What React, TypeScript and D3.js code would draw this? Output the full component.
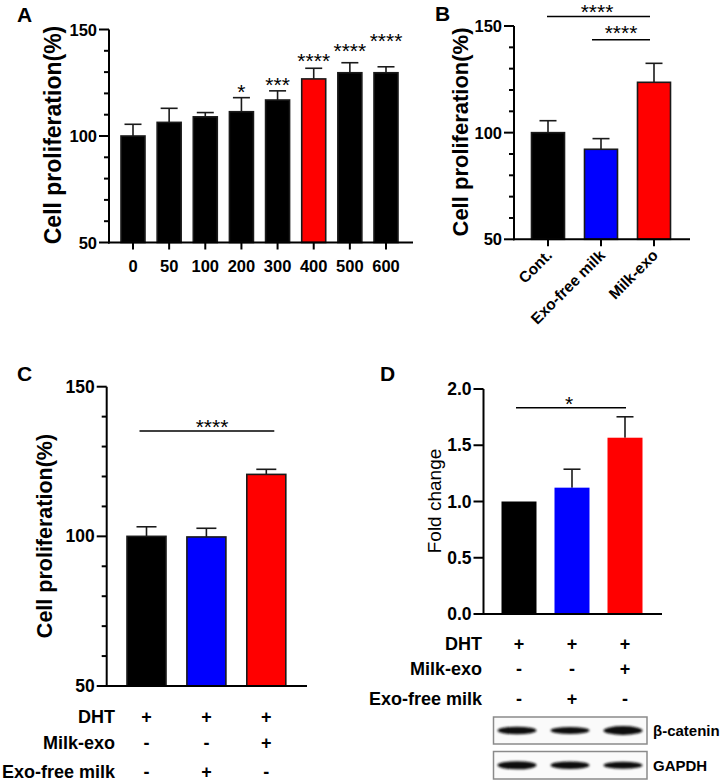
import * as d3 from "d3";

const FONT = "Liberation Sans, Arial, Helvetica, sans-serif";

// Panel A: dose response
const doseLabels = ["0", "50", "100", "200", "300", "400", "500", "600"];
const doseMeans = [100, 106.4, 109, 111.4, 116.9, 126.8, 129.7, 129.7];
const doseErrs = [5.5, 6.6, 2, 6.6, 4.3, 5, 4.7, 2.8];
const doseStars = ["", "", "", "*", "***", "****", "****", "****"];
const doseStarLevels = [0, 0, 0, 123.5, 126.8, 138, 142.7, 147.4];
const doseColors = ["#000", "#000", "#000", "#000", "#000", "#ff0000", "#000", "#000"];

// Panel B: milk fractions
const groupLabels = ["Cont.", "Exo-free milk", "Milk-exo"];
const groupMeans = [100, 92.2, 123.6];
const groupErrs = [5.6, 5, 8.9];
const groupColors = ["#000", "#0000ff", "#ff0000"];

// Panel C: DHT proliferation
const dhtMeans = [100, 99.8, 120.7];
const dhtErrs = [3.2, 2.9, 1.7];

// Panel D: beta-catenin fold change
const foldMeans = [1.0, 1.123, 1.567];
const foldErrs = [0, 0.164, 0.186];

const treatRows = ["DHT", "Milk-exo", "Exo-free milk"];
const treatSigns = [
  ["+", "+", "+"],
  ["-", "-", "+"],
  ["-", "+", "-"],
];
const betaCateninBands = [1.0, 0.9, 1.2];
const gapdhBands = [1.1, 1.0, 0.95];

type PanelProps = {
  labels: string[];
  means: number[];
  errs: number[];
  colors: string[];
  domain: [number, number];
  yRange: [number, number];
  xRange: [number, number];
  axisX: number;
  axisEnd: number;
  barW: number;
  capW: number;
  majors: number[];
  minorStep?: number;
  fmt?: (v: number) => string;
  tickFont: number;
  xTicks?: boolean;
  outline?: boolean;
};

function BarPanel(p: PanelProps) {
  const y = d3.scaleLinear().domain(p.domain).range(p.yRange);
  const x = d3.scalePoint<string>().domain(p.labels).range(p.xRange);
  const base = y(p.domain[0]);
  const minors = p.minorStep
    ? d3.range(p.domain[0], p.domain[1] + 0.001, p.minorStep).filter(v => !p.majors.includes(v))
    : [];
  const fmt = p.fmt || ((v: number) => String(v));
  return (
    <g>
      {p.labels.map((l, i) => {
        const cx = x(l)!;
        const top = y(p.means[i]);
        const et = y(p.means[i] + p.errs[i]);
        return (
          <g key={l}>
            {p.errs[i] > 0 && (
              <g stroke="#1a1a1a" strokeWidth={1.6}>
                <line x1={cx} x2={cx} y1={top} y2={et} />
                <line x1={cx - p.capW / 2} x2={cx + p.capW / 2} y1={et} y2={et} />
              </g>
            )}
            <rect
              x={cx - p.barW / 2}
              y={top}
              width={p.barW}
              height={base - top}
              fill={p.colors[i]}
              stroke={p.outline ? "#1a1a1a" : "none"}
              strokeWidth={1.6}
            />
            {p.xTicks && <line x1={cx} x2={cx} y1={base} y2={base + 7} stroke="#000" strokeWidth={2} />}
          </g>
        );
      })}
      <line x1={p.axisX} x2={p.axisX} y1={p.yRange[1]} y2={base + 1} stroke="#000" strokeWidth={2} />
      <line x1={p.axisX - 1} x2={p.axisEnd} y1={base} y2={base} stroke="#000" strokeWidth={2} />
      {p.majors.map(v => (
        <g key={"M" + v}>
          <line x1={p.axisX - 10} x2={p.axisX} y1={y(v)} y2={y(v)} stroke="#000" strokeWidth={2} />
          <text
            x={p.axisX - 12}
            y={y(v)}
            textAnchor="end"
            dominantBaseline="central"
            fontSize={p.tickFont}
            fontWeight="bold"
          >
            {fmt(v)}
          </text>
        </g>
      ))}
      {minors.map(v => (
        <line key={"m" + v} x1={p.axisX - 5} x2={p.axisX} y1={y(v)} y2={y(v)} stroke="#000" strokeWidth={2} />
      ))}
    </g>
  );
}

function Stars({ x, y, text, size = 21 }: { x: number; y: number; text: string; size?: number }) {
  // y is the visual centre of the asterisks
  return (
    <text x={x} y={y + size * 0.6} textAnchor="middle" fontSize={size}>
      {text}
    </text>
  );
}

function SignTable({ xs, rowYs, labelX }: { xs: number[]; rowYs: number[]; labelX: number }) {
  return (
    <g fontWeight="bold" fontSize={18}>
      {treatRows.map((r, j) => (
        <g key={r}>
          <text x={labelX} y={rowYs[j]} textAnchor="end" dominantBaseline="central">
            {r}
          </text>
          {treatSigns[j].map((s, i) => (
            <text key={i} x={xs[i]} y={rowYs[j]} textAnchor="middle" dominantBaseline="central">
              {s}
            </text>
          ))}
        </g>
      ))}
    </g>
  );
}

export default function App() {
  // scales shared with the annotations
  const yA = d3.scaleLinear().domain([50, 150]).range([242.5, 29.5]);
  const xA = d3.scalePoint<string>().domain(doseLabels).range([133, 386]);
  const yB = d3.scaleLinear().domain([50, 150]).range([239.3, 26]);
  const xB = d3.scalePoint<string>().domain(groupLabels).range([548, 654]);
  const yC = d3.scaleLinear().domain([50, 150]).range([686, 386.7]);
  const xC = d3.scalePoint<string>().domain(groupLabels).range([146.5, 266.3]);
  const yD = d3.scaleLinear().domain([0, 2]).range([614, 389]);
  const xD = d3.scalePoint<string>().domain(groupLabels).range([519, 625]);
  const bandW = d3.scaleLinear().domain([0, 1]).range([0, 6.5]);

  return (
    <svg
      width={726}
      height={784}
      style={{ position: "absolute", left: 0, top: 0, background: "#fff" }}
      fontFamily={FONT}
    >
      <defs>
        <filter id="blur" x="-20%" y="-80%" width="140%" height="260%">
          <feGaussianBlur stdDeviation="1.1" />
        </filter>
      </defs>

      {/* Panel A */}
      <text x={17} y={22} fontSize={21} fontWeight="bold">A</text>
      <BarPanel
        labels={doseLabels}
        means={doseMeans}
        errs={doseErrs}
        colors={doseColors}
        domain={[50, 150]}
        yRange={[242.5, 29.5]}
        xRange={[133, 386]}
        axisX={109}
        axisEnd={413}
        barW={24}
        capW={17}
        majors={[50, 100, 150]}
        minorStep={10}
        tickFont={16.5}
        xTicks
        outline
      />
      {doseLabels.map(l => (
        <text key={l} x={xA(l)} y={266} textAnchor="middle" dominantBaseline="central" fontSize={16.5} fontWeight="bold">
          {l}
        </text>
      ))}
      {doseStars.map((s, i) =>
        s ? <Stars key={i} x={xA(doseLabels[i])!} y={yA(doseStarLevels[i])} text={s} /> : null
      )}
      <text
        transform="translate(53,135) rotate(-90)"
        textAnchor="middle"
        dominantBaseline="central"
        fontSize={23}
        fontWeight="bold"
      >
        Cell proliferation(%)
      </text>

      {/* Panel B */}
      <text x={435} y={21} fontSize={21} fontWeight="bold">B</text>
      <BarPanel
        labels={groupLabels}
        means={groupMeans}
        errs={groupErrs}
        colors={groupColors}
        domain={[50, 150]}
        yRange={[239.3, 26]}
        xRange={[548, 654]}
        axisX={514}
        axisEnd={690}
        barW={33}
        capW={17}
        majors={[50, 100, 150]}
        minorStep={10}
        tickFont={16.5}
        xTicks
        outline
      />
      {groupLabels.map(l => (
        <text
          key={l}
          transform={`translate(${xB(l)! + 5},${yB(50) + 17}) rotate(-45)`}
          textAnchor="end"
          fontSize={15.5}
          fontWeight="bold"
        >
          {l}
        </text>
      ))}
      <g stroke="#000" strokeWidth={1.5}>
        <line x1={xB(groupLabels[0])! - 1} x2={xB(groupLabels[2])! - 4} y1={yB(154.5)} y2={yB(154.5)} />
        <line x1={xB(groupLabels[1])! - 9} x2={xB(groupLabels[2])! - 4} y1={yB(143.6)} y2={yB(143.6)} />
      </g>
      <Stars x={597} y={yB(154.5) - 10} text="****" />
      <Stars x={621} y={yB(143.6) - 12} text="****" />
      <text
        transform="translate(460,132) rotate(-90)"
        textAnchor="middle"
        dominantBaseline="central"
        fontSize={22}
        fontWeight="bold"
      >
        Cell proliferation(%)
      </text>

      {/* Panel C */}
      <text x={17} y={381} fontSize={21} fontWeight="bold">C</text>
      <BarPanel
        labels={groupLabels}
        means={dhtMeans}
        errs={dhtErrs}
        colors={["#000", "#0000ff", "#ff0000"]}
        domain={[50, 150]}
        yRange={[686, 386.7]}
        xRange={[146.5, 266.3]}
        axisX={106.7}
        axisEnd={307}
        barW={39}
        capW={20}
        majors={[50, 100, 150]}
        minorStep={10}
        tickFont={17.5}
        outline
      />
      <line
        x1={xC(groupLabels[0])! - 7}
        x2={xC(groupLabels[2])! + 8}
        y1={yC(135.2)}
        y2={yC(135.2)}
        stroke="#000"
        strokeWidth={1.5}
      />
      <Stars x={212} y={yC(135.2) - 10} text="****" />
      <text
        transform="translate(45,536) rotate(-90)"
        textAnchor="middle"
        dominantBaseline="central"
        fontSize={21.5}
        fontWeight="bold"
      >
        Cell proliferation(%)
      </text>
      <SignTable xs={groupLabels.map(l => xC(l)!)} rowYs={[717, 743, 772]} labelX={115} />

      {/* Panel D */}
      <text x={380} y={381} fontSize={21} fontWeight="bold">D</text>
      <BarPanel
        labels={groupLabels}
        means={foldMeans}
        errs={foldErrs}
        colors={["#000", "#0000ff", "#ff0000"]}
        domain={[0, 2]}
        yRange={[614, 389]}
        xRange={[519, 625]}
        axisX={483.5}
        axisEnd={662}
        barW={35}
        capW={17}
        majors={[0, 0.5, 1, 1.5, 2]}
        fmt={d3.format(".1f")}
        tickFont={17.5}
      />
      <line
        x1={xD(groupLabels[0])! - 3}
        x2={xD(groupLabels[2])! + 1}
        y1={yD(1.834)}
        y2={yD(1.834)}
        stroke="#000"
        strokeWidth={1.5}
      />
      <Stars x={569} y={yD(1.834) - 9} text="*" />
      <text
        transform="translate(434,501) rotate(-90)"
        textAnchor="middle"
        dominantBaseline="central"
        fontSize={19}
      >
        Fold change
      </text>
      <SignTable xs={groupLabels.map(l => xD(l)!)} rowYs={[643.5, 668.5, 698.5]} labelX={482} />

      {/* Western blot */}
      {[
        { name: "β-catenin", bands: betaCateninBands, top: 717, bottom: 744 },
        { name: "GAPDH", bands: gapdhBands, top: 751.5, bottom: 779 },
      ].map(b => {
        const cy = (b.top + b.bottom) / 2;
        return (
          <g key={b.name}>
            <rect x={493.5} y={b.top} width={153.5} height={b.bottom - b.top} fill="#fafafa" stroke="#8a8a8a" strokeWidth={1.5} />
            {b.bands.map((v, i) => (
              <ellipse
                key={i}
                cx={xD(groupLabels[i])! - 2}
                cy={cy}
                rx={19.5}
                ry={bandW(v) / 2 + 0.5}
                fill="#111"
                filter="url(#blur)"
              />
            ))}
            <text x={653} y={cy} dominantBaseline="central" fontSize={15} fontWeight="bold">
              {b.name}
            </text>
          </g>
        );
      })}
    </svg>
  );
}
